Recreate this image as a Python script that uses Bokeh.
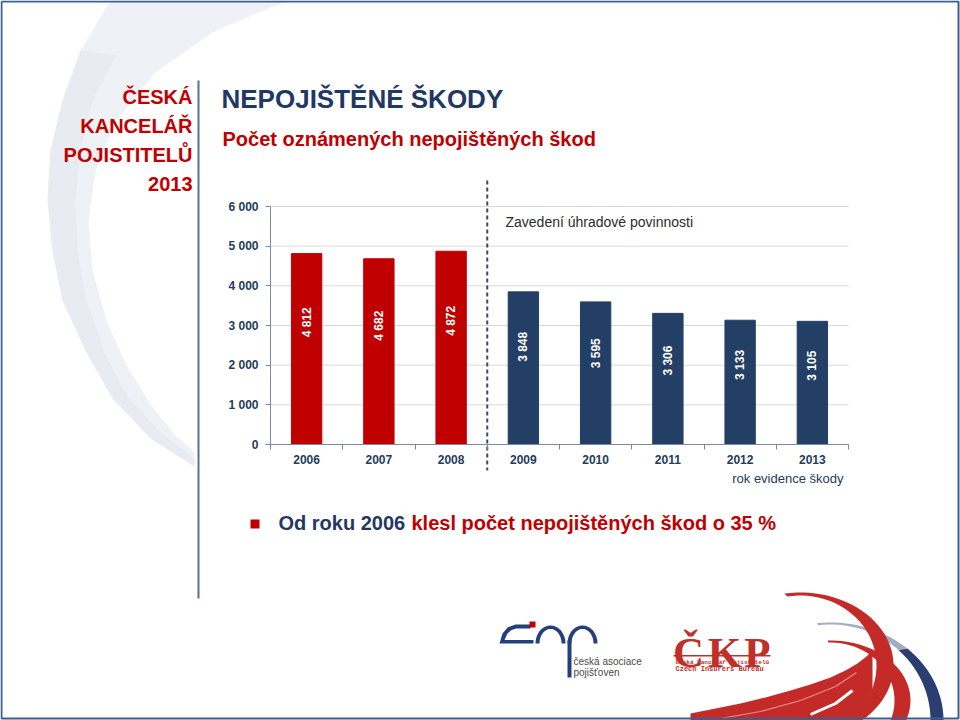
import numpy as np
from bokeh.plotting import figure
from bokeh.models import (Range1d, FixedTicker, Label, LinearAxis, ColumnDataSource)
from bokeh.core.properties import value
from bokeh.embed import file_html
from bokeh.resources import INLINE

# ---------------- data ----------------
years = ["2006", "2007", "2008", "2009", "2010", "2011", "2012", "2013"]
counts = [4812, 4682, 4872, 3848, 3595, 3306, 3133, 3105]
periods = ["before", "before", "before", "after", "after", "after", "after", "after"]
y_ticks = [0, 1000, 2000, 3000, 4000, 5000, 6000]
y_tick_labels = ["0", "1 000", "2 000", "3 000", "4 000", "5 000", "6 000"]
period_colors = {"before": "#c00000", "after": "#243f66"}

# ---------------- layout (canvas pixels) ----------------
W, H = 960, 720
FL, FR, FT, FB = 270, 848, 206, 444   # chart area edges in canvas pixels
NCAT = len(years)
YMAX = 6000

def dx(X):
    return (X - FL) / (FR - FL) * NCAT

def dy(Y):
    return (FB - Y) / (FB - FT) * YMAX

FONT = "Liberation Sans"
NAVY = "#1f3864"
AXIS_TXT = "#253b5c"
AXIS_LINE = "#7a8aa0"
RED = "#c00000"

# whole canvas is the frame: default ranges are pixel coordinates (y downward)
p = figure(width=W, height=H, x_range=Range1d(0, W), y_range=Range1d(H, 0),
           x_axis_location=None, y_axis_location=None,
           min_border_left=0, min_border_right=0, min_border_top=0, min_border_bottom=0,
           output_backend="svg", toolbar_location=None,
           outline_line_color=None, background_fill_color="white",
           border_fill_color="white")
p.grid.visible = False
# chart ranges, mapped so that the chart area sits at FL..FR / FT..FB
p.extra_x_ranges = {"cx": Range1d(dx(0), dx(W))}
p.extra_y_ranges = {"cy": Range1d(dy(H), dy(0))}
C = dict(x_range_name="cx", y_range_name="cy")

xs = [i + 0.5 for i in range(NCAT)]
src = ColumnDataSource(dict(
    x=xs, count=counts, year=years,
    color=[period_colors[g] for g in periods],
    label=[f"{c:,}".replace(",", " ") for c in counts],
    label_y=[c * 0.64 for c in counts],
))


def patch(pts, color, alpha=1.0):
    p.patch([a for a, b in pts], [b for a, b in pts], fill_color=color,
            fill_alpha=alpha, line_color=None)


def arc_pts(cx, cy, rxo, ryo, rxi, ryi, a0, a1, n=40):
    t = np.radians(np.linspace(a0, a1, n))
    outer = [(cx + rxo * np.cos(a), cy - ryo * np.sin(a)) for a in t]
    inner = [(cx + rxi * np.cos(a), cy - ryi * np.sin(a)) for a in t[::-1]]
    return outer + inner


def label(X, Y, s, size, color, bold=False, align="left", font=FONT, baseline="middle"):
    p.add_layout(Label(x=X, y=Y, text=s, text_font_size=size, text_color=color,
                       text_font=font, text_font_style="bold" if bold else "normal",
                       text_align=align, text_baseline=baseline))


# ---- decorations: grey swoosh at top left ----
swoosh_outer = [(110, 0), (80, 50), (62, 100), (50, 150), (47, 200), (52, 250), (62, 300),
                (85, 350), (112, 398), (150, 438), (194, 466)]
swoosh_inner = [(194, 452), (174, 434), (150, 404), (126, 365), (106, 320), (92, 270),
                (88, 220), (95, 170), (116, 120), (155, 72), (215, 30), (287, 0)]
patch(swoosh_outer + swoosh_inner, "#eef1f6")
patch([(62, 100), (50, 150), (47, 200), (52, 250), (62, 300), (85, 350), (112, 398),
       (150, 438), (194, 466), (194, 458), (160, 432), (128, 398), (104, 352), (86, 300),
       (77, 250), (75, 200), (80, 150), (92, 100), (115, 55), (80, 50)], "#e8ebf2")

# gridlines
p.segment(x0=[0] * len(y_ticks), x1=[NCAT] * len(y_ticks), y0=y_ticks, y1=y_ticks,
          line_color="#d9d9d9", line_width=1, **C)

p.vbar(x="x", top="count", width=0.42, color="color", source=src, **C)
p.text(x="x", y="label_y", text="label", angle=np.pi / 2, source=src,
       text_color="white", text_font=value(FONT), text_font_style="bold",
       text_font_size="12px", text_align="center", text_baseline="middle", **C)

# axes
xa = LinearAxis(fixed_location=0, bounds=(0, NCAT), **C)
xa.ticker = FixedTicker(ticks=xs, minor_ticks=list(range(NCAT + 1)))
xa.major_label_overrides = {x: y for x, y in zip(xs, years)}
xa.major_tick_out = 0
xa.major_tick_in = 0
xa.minor_tick_out = 5
xa.minor_tick_in = 0
xa.major_label_standoff = 5
xa.axis_line_color = AXIS_LINE
xa.minor_tick_line_color = AXIS_LINE
xa.major_label_text_font = FONT
xa.major_label_text_font_style = "bold"
xa.major_label_text_font_size = "12px"
xa.major_label_text_color = AXIS_TXT
p.add_layout(xa, "below")

ya = LinearAxis(fixed_location=0, bounds=(0, YMAX), **C)
ya.ticker = FixedTicker(ticks=y_ticks)
ya.major_label_overrides = {t: s for t, s in zip(y_ticks, y_tick_labels)}
ya.major_tick_out = 5
ya.major_tick_in = 0
ya.minor_tick_out = 0
ya.minor_tick_in = 0
ya.major_label_standoff = 7
ya.axis_line_color = AXIS_LINE
ya.major_tick_line_color = AXIS_LINE
ya.major_label_text_font = FONT
ya.major_label_text_font_style = "bold"
ya.major_label_text_font_size = "12px"
ya.major_label_text_color = AXIS_TXT
p.add_layout(ya, "left")

# dashed separator between 2008 and 2009
p.segment(x0=[3], x1=[3], y0=[dy(180)], y1=[dy(470)], line_color="#3a4a66",
          line_width=2, line_dash="4 3", **C)

# ---- ribbons bottom right ----
RIB = "#c42b28"
patch(arc_pts(830, 720, 113, 98, 100, 96, 45, 97), "#a3adc2")
patch(arc_pts(830, 720, 113, 98, 100, 96, -5, 47), "#2a3f70")
patch(arc_pts(830, 700, 80, 60, 64, 58, -40, 92), RIB)
sweep_top = [(690, 713), (715, 708), (740, 703), (765, 697), (790, 690), (810, 684),
             (830, 677), (845, 670), (857, 663), (866, 656), (872, 650)]
patch(sweep_top + [(872, 690), (855, 720), (690, 720)], RIB)
patch(arc_pts(800, 665, 93, 73, 76, 70, -52, 100), RIB)
p.line([720, 760, 800, 835, 856], [718, 711, 700, 686, 672], line_color="#e8908c",
       line_width=1.2)
p.line([810, 835, 852], [714, 703, 690], line_color="white", line_width=3)

# slide border and vertical divider
p.line([1, 958, 958, 1, 1], [1, 1, 718, 718, 1], line_color="#3d5f8f", line_width=2)
p.line([198, 198], [80, 598], line_color="#5b7296", line_width=2)

# ---- texts ----
label(192, 96, "ČESKÁ", "20px", RED, bold=True, align="right")
label(192, 125, "KANCELÁŘ", "20px", RED, bold=True, align="right")
label(192, 154, "POJISTITELŮ", "20px", RED, bold=True, align="right")
label(192, 183, "2013", "20px", RED, bold=True, align="right")
label(221, 98, "NEPOJIŠTĚNÉ ŠKODY", "26px", NAVY, bold=True)
label(222, 138, "Počet oznámených nepojištěných škod", "20px", RED, bold=True)
label(505, 221, "Zavedení úhradové povinnosti", "14px", "#2b2b2b")
label(843, 478, "rok evidence škody", "13px", AXIS_TXT, align="right")

patch([(250, 519), (259, 519), (259, 528), (250, 528)], RED)
label(278, 522, "Od roku 2006 ", "20px", NAVY, bold=True)
label(411, 522, "klesl počet nepojištěných škod o 35 %", "20px", RED, bold=True)

# ---- CAP logo (approximation) ----
LOGO_BLUE = "#24407a"
patch([(530, 624), (515, 624), (507, 627), (502, 633), (499, 643), (533, 643), (533, 639.5),
       (504, 639.5), (507, 633), (511, 629.5), (516, 628), (530, 628)], LOGO_BLUE)
patch([(529, 621), (535, 621), (535, 627), (529, 627)], RED)
patch(arc_pts(550, 643, 15, 18, 11, 14.5, 0, 180), LOGO_BLUE)
patch(arc_pts(582, 643, 15, 18, 11, 14.5, 0, 180), LOGO_BLUE)
patch([(567, 640), (571, 640), (571, 677), (567, 677)], LOGO_BLUE)
label(573, 661, "česká asociace", "10px", "#4a4a4a")
label(573, 672, "pojišťoven", "10px", "#4a4a4a")

# ---- ČKP logo (approximation) ----
CKP = "#c0302a"
for ch, cx_ in zip(["Č", "K", "P"], [688, 724, 757]):
    label(cx_, 652, ch, "43px", CKP, bold=True, font="Liberation Serif",
          align="center", baseline="alphabetic")
patch([(673, 654.5), (770, 654.5), (770, 656), (673, 656)], CKP)
label(675, 661.5, "Česká kancelář pojistitelů", "6px", CKP, bold=True,
      font="Liberation Mono")
label(675, 668, "Czech Insurers Bureau", "7px", CKP, bold=True,
      font="Liberation Mono")

open("out.html", "w").write(file_html(p, INLINE))
